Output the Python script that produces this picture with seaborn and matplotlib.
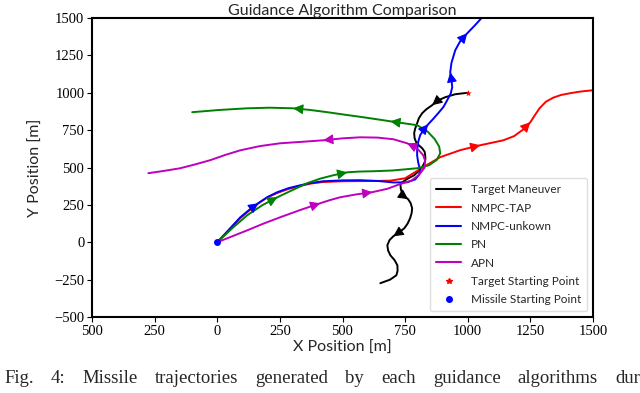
import numpy as np
import pandas as pd
import matplotlib
matplotlib.use("Agg")
import matplotlib.pyplot as plt
import seaborn as sns
from matplotlib.lines import Line2D

# ---------------- data ----------------
target_x = [1000, 950, 910, 880, 858, 835, 818, 805, 798, 790, 786, 788, 794, 805, 818,
            828, 830, 831, 828, 822, 815, 800, 786, 765, 750, 738, 731, 733, 739, 750,
            762, 772, 778, 776, 770, 760, 747, 725, 703, 688, 679, 682, 691, 708, 719,
            720, 715, 690, 651]
target_y = [1000, 990, 970, 948, 917, 890, 863, 830, 796, 760, 729, 695, 669, 648, 629,
            605, 582, 558, 535, 515, 495, 470, 448, 430, 415, 400, 388, 355, 321, 302,
            288, 262, 227, 195, 161, 125, 94, 65, 40, 15, -20, -55, -87, -120, -154,
            -190, -221, -250, -274]

tap_x = [0, 44, 92, 130, 164, 200, 240, 285, 331, 375, 423, 500, 571, 630, 691, 750,
         822, 890, 970, 1050, 1142, 1185, 1222, 1250, 1268, 1287, 1312, 1341, 1372,
         1409, 1450, 1501]
tap_y = [0, 74, 161, 215, 261, 300, 330, 357, 377, 393, 403, 408, 409, 410, 412, 428,
         502, 569, 616, 649, 682, 710, 755, 803, 850, 897, 940, 967, 985, 997, 1008,
         1017]

unk_x = [0, 44, 92, 130, 164, 200, 240, 285, 331, 375, 423, 500, 571, 640, 703, 758,
         790, 805, 810, 802, 798, 798, 802, 810, 825, 842, 862, 882, 903, 918, 932, 938,
         935, 930, 935, 950, 970, 998, 1028, 1058]
unk_y = [0, 80, 167, 220, 261, 302, 335, 362, 381, 397, 408, 414, 415, 410, 400, 401,
         420, 450, 482, 535, 580, 615, 670, 716, 755, 789, 825, 863, 905, 950, 995, 1037,
         1090, 1137, 1200, 1284, 1345, 1398, 1450, 1505]

pn_x = [0, 60, 120, 180, 240, 299, 359, 410, 463, 519, 570, 623, 700, 798, 845, 876,
        890, 886, 868, 840, 798, 740, 691, 640, 583, 510, 439, 370, 303, 210, 120, 10,
        -100]
pn_y = [0, 94, 181, 248, 301, 348, 395, 425, 448, 468, 473, 475, 480, 495, 515, 550,
        595, 640, 690, 740, 783, 797, 809, 822, 836, 853, 870, 885, 896, 900, 896, 885,
        870]

apn_x = [0, 60, 120, 185, 251, 330, 411, 450, 491, 555, 619, 680, 731, 775, 805, 828,
         830, 822, 805, 780, 758, 703, 640, 571, 500, 423, 340, 251, 170, 92, 30, -28,
         -90, -148, -210, -275]
apn_y = [0, 40, 80, 125, 167, 215, 261, 282, 301, 320, 335, 358, 390, 412, 450, 500,
         545, 582, 615, 645, 662, 689, 700, 702, 695, 682, 672, 662, 643, 615, 583, 549,
         520, 495, 478, 462]

series_names = ["Target Maneuver", "NMPC-TAP", "NMPC-unkown", "PN", "APN"]
target_start = (1000, 1000)
missile_start = (0, 0)

x_ticks = [-500, -250, 0, 250, 500, 750, 1000, 1250, 1500]
x_tick_labels = ["500", "250", "0", "250", "500", "750", "1000", "1250", "1500"]
y_ticks = [-500, -250, 0, 250, 500, 750, 1000, 1250, 1500]
y_tick_labels = ["\u2212500", "\u2212250", "0", "250", "500", "750", "1000", "1250", "1500"]

caption_words = ["Fig.", "4:", "Missile", "trajectories", "generated", "by", "each",
                 "guidance", "algorithms", "dur"]

# ---------------- styling ----------------
colors = {"Target Maneuver": "#000000", "NMPC-TAP": "#ff0000", "NMPC-unkown": "#0000ff",
          "PN": "#008000", "APN": "#bf00bf"}
arrow_idx = {"Target Maneuver": [4, 30, 38], "NMPC-TAP": [19, 23],
             "NMPC-unkown": [4, 25, 33, 37], "PN": [4, 9, 22, 28],
             "APN": [6, 10, 20, 25]}

sns.set_theme(style="ticks")
plt.rcParams["font.family"] = ["Lato", "DejaVu Sans"]

xs = [target_x, tap_x, unk_x, pn_x, apn_x]
ys = [target_y, tap_y, unk_y, pn_y, apn_y]
frames = []
for name, x, y in zip(series_names, xs, ys):
    frames.append(pd.DataFrame({"x": x, "y": y, "series": name}))
df = pd.concat(frames, ignore_index=True)

fig = plt.figure(figsize=(6.4, 3.93), dpi=100)
ax = fig.add_axes([92 / 640, 1 - 317 / 393, (593 - 92) / 640, (317 - 18) / 393])
ax.set_xlim(-500, 1500)
ax.set_ylim(-500, 1500)

sns.lineplot(data=df, x="x", y="y", hue="series", hue_order=series_names,
             palette=colors, sort=False, estimator=None, units="series",
             linewidth=1.4, ax=ax, legend=False, solid_joinstyle="round")
ax.set_xlim(-500, 1500)
ax.set_ylim(-500, 1500)

# direction arrows along each path
for name, x, y in zip(series_names, xs, ys):
    for i in arrow_idx[name]:
        p0 = ax.transData.transform((x[i - 1], y[i - 1]))
        p1 = ax.transData.transform((x[i], y[i]))
        d = (p1 - p0) / np.hypot(*(p1 - p0))
        ax.annotate("", xy=(x[i], y[i]), xycoords="data",
                    xytext=(-d[0] * 8, -d[1] * 8), textcoords="offset pixels",
                    arrowprops=dict(arrowstyle="-|>,head_length=0.55,head_width=0.28",
                                    color=colors[name], lw=0.8,
                                    mutation_scale=11, shrinkA=0, shrinkB=0))

sns.scatterplot(x=[target_start[0]], y=[target_start[1]], marker="*", color="#ff0000",
                s=25, linewidth=0, ax=ax, zorder=5)
sns.scatterplot(x=[missile_start[0]], y=[missile_start[1]], marker="o", color="#0000ff",
                s=25, linewidth=0, ax=ax, zorder=5)

ax.set_xticks(x_ticks)
ax.set_xticklabels(x_tick_labels, family="Liberation Serif", fontsize=10.5)
ax.set_yticks(y_ticks)
ax.set_yticklabels(y_tick_labels, family="Liberation Serif", fontsize=10.5)
ax.tick_params(length=3.5, width=0.8, pad=2, colors="black")
for s in ax.spines.values():
    s.set_linewidth(1.5)
    s.set_color("black")
    s.set_visible(True)

ax.set_title("Guidance Algorithm Comparison", fontsize=11.5, pad=1)
ax.set_xlabel("X Position [m]", fontsize=11.5, labelpad=2)
ax.set_ylabel("Y Position [m]", fontsize=11.5, labelpad=8)

handles = [Line2D([], [], color=colors[n], lw=1.5) for n in series_names]
handles.append(Line2D([], [], marker="*", color="#ff0000", ls="", markersize=4))
handles.append(Line2D([], [], marker="o", color="#0000ff", ls="", markersize=4))
labels = series_names + ["Target Starting Point", "Missile Starting Point"]
leg = ax.legend(handles, labels, loc="lower right", fontsize=8.5, frameon=True,
                borderpad=0.5, labelspacing=0.62, handlelength=2.2,
                handletextpad=0.8, borderaxespad=0.5)
leg.get_frame().set_edgecolor("#d8d8d8")

# justified caption line
renderer = fig.canvas.get_renderer()
texts = [fig.text(0, 1 - 383 / 393, w, family="Liberation Serif", fontsize=13.5,
                  ha="left", va="baseline") for w in caption_words]
widths = [t.get_window_extent(renderer).width for t in texts]
left_px, last_px = 4.0, 615.0
gap = (last_px - left_px - sum(widths[:-1])) / (len(widths) - 1)
cur = left_px
for t, w in zip(texts, widths):
    t.set_x(cur / 640)
    cur += w + gap

fig.savefig("out.png", dpi=100)
